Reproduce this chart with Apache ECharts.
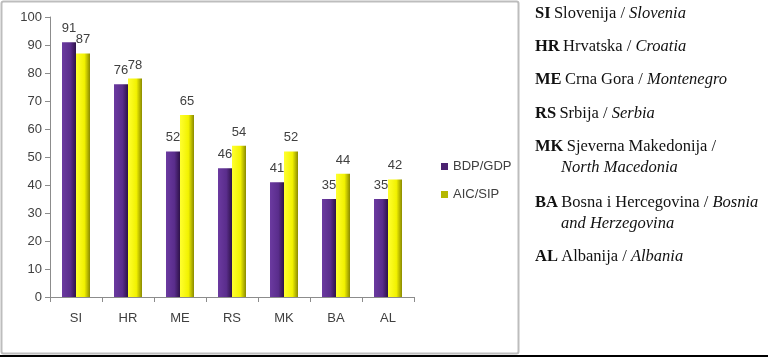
<!DOCTYPE html>
<html>
<head>
<meta charset="utf-8">
<script src="https://cdn.jsdelivr.net/npm/echarts@6/dist/echarts.min.js"></script>
<style>
html,body{margin:0;padding:0;background:#fff;}
#chart{width:768px;height:357px;}
</style>
</head>
<body>
<div id="chart"></div>
<script>
var categories = ['SI', 'HR', 'ME', 'RS', 'MK', 'BA', 'AL'];
var bdpGdp = [91, 76, 52, 46, 41, 35, 35];
var aicSip = [87, 78, 65, 54, 52, 44, 42];
var seriesNames = ['BDP/GDP', 'AIC/SIP'];
var yTicks = [0, 10, 20, 30, 40, 50, 60, 70, 80, 90, 100];
var notes = [
  ['SI', 'Slovenija / ', 'Slovenia'],
  ['HR', 'Hrvatska / ', 'Croatia'],
  ['ME', 'Crna Gora / ', 'Montenegro'],
  ['RS', 'Srbija / ', 'Serbia'],
  ['MK', 'Sjeverna Makedonija /', '', 'North Macedonia'],
  ['BA', 'Bosna i Hercegovina / ', 'Bosnia', 'and Herzegovina'],
  ['AL', 'Albanija / ', 'Albania']
];

var chart = echarts.init(document.getElementById('chart'));

function grad(c1, c2, c3) {
  return new echarts.graphic.LinearGradient(0, 0, 1, 0, [
    {offset: 0, color: c1},
    {offset: 0.6, color: c2},
    {offset: 1, color: c3}
  ]);
}

var noteY = [13, 46, 79, 113, 146, 202, 256];
var FS = 16.5;
var graphics = [
  {type: 'rect', shape: {x: 1.5, y: 1.5, width: 517, height: 352, r: 2}, style: {fill: 'none', stroke: '#bdbdbd', lineWidth: 2}, z: -1},
  {type: 'rect', shape: {x: 0, y: 355, width: 768, height: 2}, style: {fill: '#000'}}
];
notes.forEach(function (n, i) {
  graphics.push({
    type: 'text', left: 535, top: noteY[i] - 8,
    style: {
      rich: {
        b: {fontFamily: 'Liberation Serif', fontSize: FS, fontWeight: 'bold', fill: '#111'},
        r: {fontFamily: 'Liberation Serif', fontSize: FS, fill: '#111'},
        i: {fontFamily: 'Liberation Serif', fontSize: FS, fontStyle: 'italic', fill: '#111'}
      },
      text: '{b|' + n[0] + '} {r|' + n[1] + '}' + (n[2] ? '{i|' + n[2] + '}' : '')
    }
  });
  if (n[3]) {
    graphics.push({
      type: 'text', left: 561, top: noteY[i] + 21 - 8,
      style: {text: n[3], fontFamily: 'Liberation Serif', fontSize: FS, fontStyle: 'italic', fill: '#111'}
    });
  }
});

var labelStyle = {show: true, position: 'top', distance: 7, color: '#404040', fontSize: 13, fontFamily: 'Liberation Sans'};

chart.setOption({
  animation: false,
  backgroundColor: '#fff',
  grid: {left: 50, right: 354, top: 17, bottom: 60, containLabel: false},
  legend: {
    orient: 'vertical', left: 436, top: 155, itemWidth: 7, itemHeight: 7, itemGap: 15,
    icon: 'rect',
    textStyle: {color: '#404040', fontSize: 13, fontFamily: 'Liberation Sans'},
    data: [
      {name: seriesNames[0], itemStyle: {color: '#4b2270'}},
      {name: seriesNames[1], itemStyle: {color: '#b5b800'}}
    ]
  },
  xAxis: {
    type: 'category', data: categories,
    axisLine: {lineStyle: {color: '#8c8c8c'}},
    axisTick: {show: true, length: 5, lineStyle: {color: '#8c8c8c'}},
    axisLabel: {color: '#404040', fontSize: 13, fontFamily: 'Liberation Sans', margin: 15}
  },
  yAxis: {
    type: 'value', min: yTicks[0], max: yTicks[yTicks.length - 1], interval: 10,
    axisLine: {show: true, lineStyle: {color: '#8c8c8c'}},
    axisTick: {show: true, length: 5, lineStyle: {color: '#8c8c8c'}},
    splitLine: {show: false},
    axisLabel: {color: '#404040', fontSize: 13, fontFamily: 'Liberation Sans', margin: 8}
  },
  series: [
    {
      name: seriesNames[0], type: 'bar', data: bdpGdp, barWidth: 14, barGap: '0%',
      itemStyle: {color: grad('#6b3aa0', '#5a2d8c', '#2e1248')},
      label: labelStyle
    },
    {
      name: seriesNames[1], type: 'bar', data: aicSip, barWidth: 14,
      itemStyle: {color: grad('#ffff30', '#f2f200', '#8a8a00')},
      label: labelStyle
    }
  ],
  graphic: graphics
});
</script>
</body>
</html>
